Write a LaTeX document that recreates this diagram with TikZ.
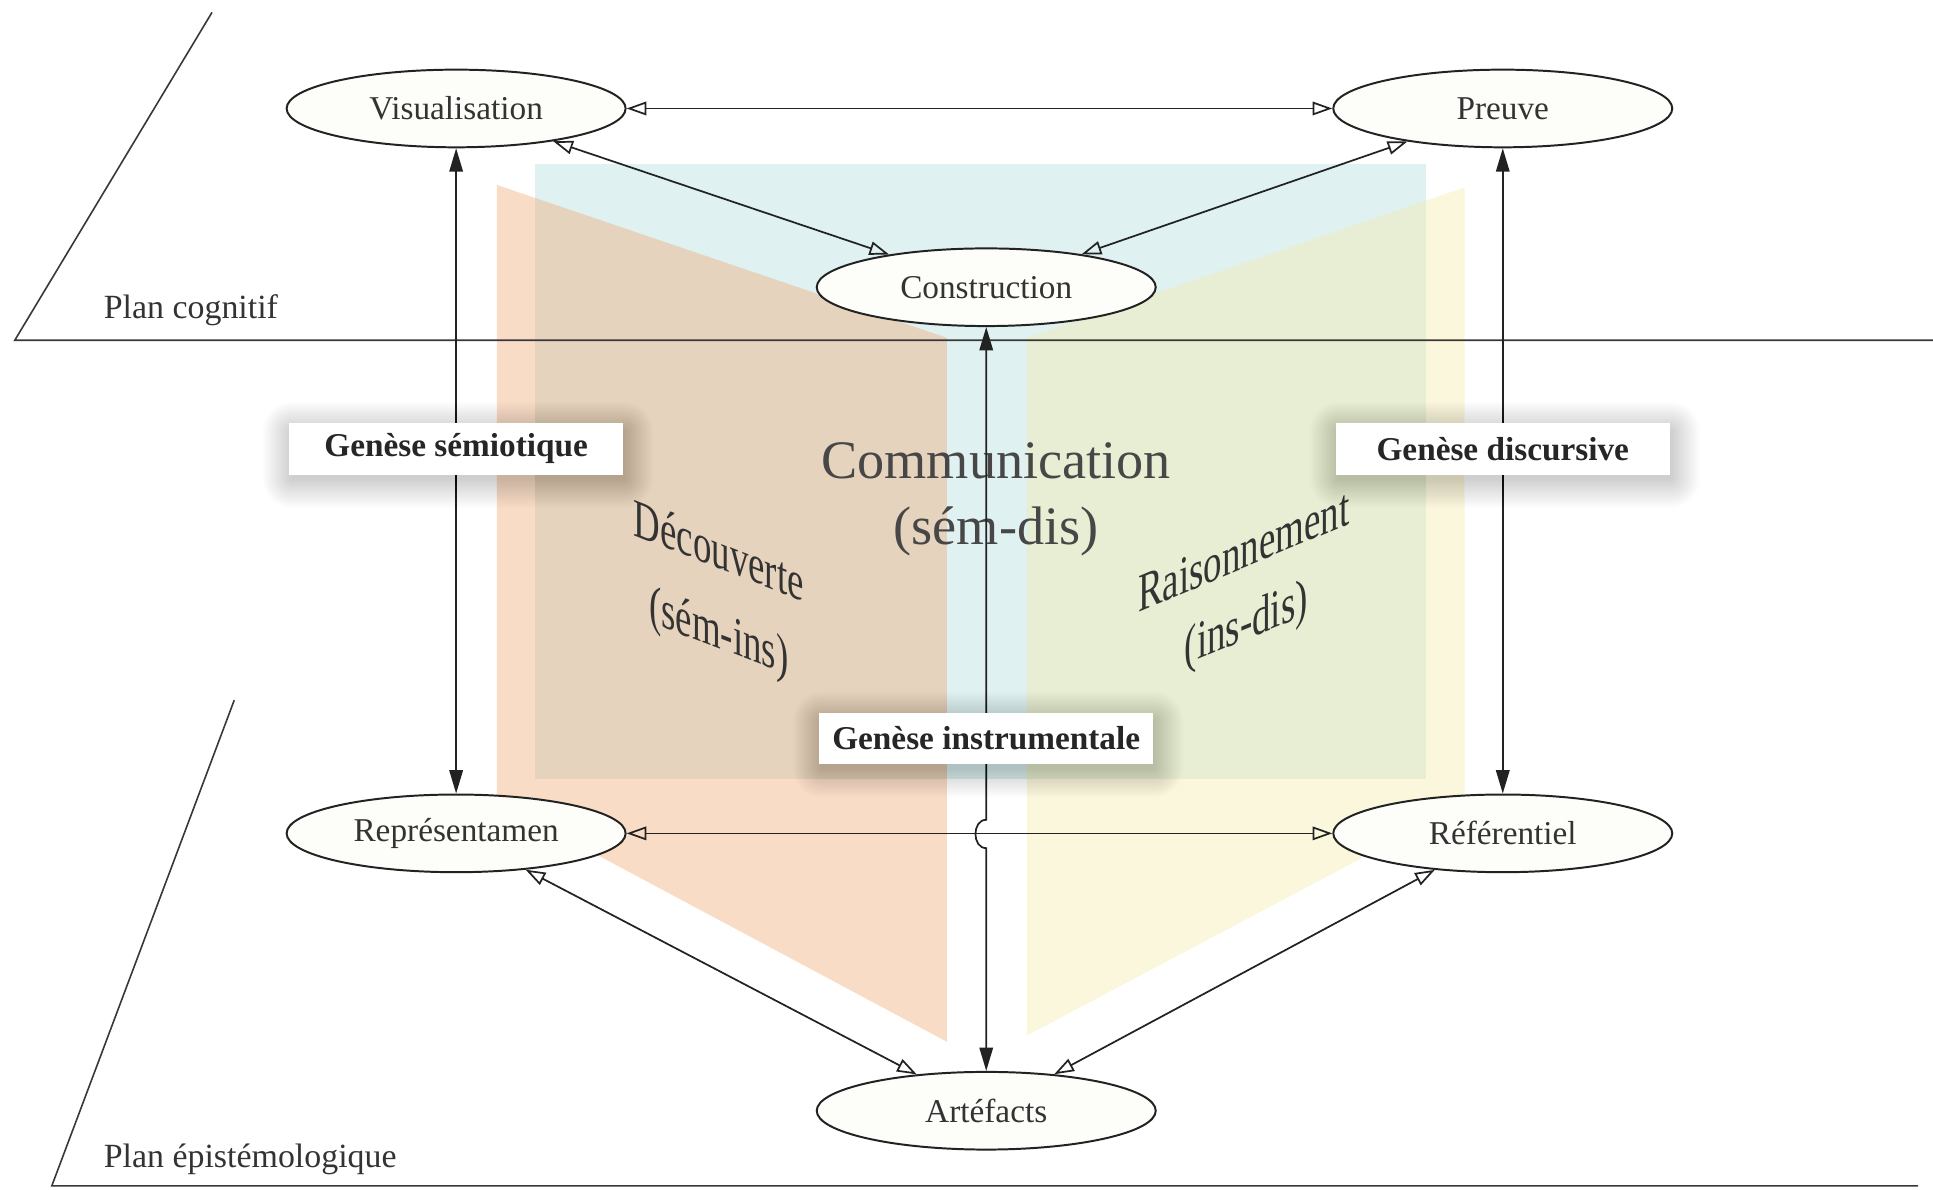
\documentclass[tikz,border=0pt]{standalone}
\usepackage{fontspec}
\setmainfont{Liberation Serif}
\usetikzlibrary{arrows.meta,shapes.geometric,calc}
\definecolor{panblue}{RGB}{224,241,241}
\definecolor{panorange}{RGB}{240,167,112}
\definecolor{panyellow}{RGB}{245,235,167}
\definecolor{ink}{RGB}{34,34,34}
\definecolor{elfill}{RGB}{253,253,249}
\newcommand\softshadow[1]{%
  \foreach \i in {1,...,24} {%
    \fill[black, opacity=0.009, rounded corners=\i pt]
      ($(#1)+(-133-\i,-19-\i+5)$) rectangle ($(#1)+(136+\i,19+\i+5)$);
  }%
}
\tikzset{
 elnode/.style={ellipse, draw=ink, line width=1.6pt, fill=elfill, minimum width=275pt, minimum height=63pt, inner sep=0pt, font=\fontsize{27}{31}\selectfont, text=black!80},
 genbox/.style={rectangle, fill=white, minimum width=271pt, minimum height=42pt, inner sep=0pt, font=\bfseries\fontsize{27}{32}\selectfont, text=black!85},
 openarr/.style={draw=ink, line width=1.4pt, {Triangle[open,length=16pt,width=11pt]}-{Triangle[open,length=16pt,width=11pt]}},
 fullarr/.style={draw=ink, line width=1.4pt, {Triangle[length=19pt,width=11pt]}-{Triangle[length=19pt,width=11pt]}},
 planeline/.style={draw=ink!90, line width=1.3pt},
 bigtext/.style={font=\fontsize{44}{50}\selectfont, text=black!72, anchor=base, inner sep=0pt},
 slanttext/.style={bigtext, text=black!80},
 plantext/.style={font=\fontsize{27.5}{32}\selectfont, text=black!80, anchor=base west, inner sep=0pt},
}
\begin{document}
\begin{tikzpicture}[x=1pt,y=-1pt]
\useasboundingbox (0,0) rectangle (1568,965);
% coloured pages
\fill[panblue] (434,133) rectangle (1157,632);
\fill[panorange, opacity=0.4] (403,150) -- (768,274) -- (768,845) -- (403,650) -- cycle;
\fill[panyellow, opacity=0.4] (1188,152) -- (833,274) -- (833,840) -- (1188,652) -- cycle;
% planes
\draw[planeline] (172,10) -- (12,276) -- (1568,276);
\draw[planeline] (190,568) -- (42,962) -- (1556,962);
\node[plantext] (pcog) at (84,258) {Plan cognitif};
\node[plantext] (pepi) at (84,947) {Plan épistémologique};
% big texts
\node[bigtext] (comm) at (808,388) {Communication};
\node[bigtext] (semdis) at (808,442) {(sém-dis)};
\node[slanttext, yslant=-0.39, xscale=0.68] (decouv) at (583,461) {Découverte};
\node[slanttext, yslant=-0.38, xscale=0.68] (semins) at (583,526) {(sém-ins)};
\node[slanttext, yslant=0.42, xscale=0.68] (raison) at (1009,461) {Raisonnement};
\node[slanttext, yslant=0.41, xscale=0.68] (insdis) at (1011,519) {(ins-dis)};
% ellipses
\node[elnode] (vis) at (370,88) {Visualisation};
\node[elnode] (preuve) at (1219,88) {Preuve};
\node[elnode] (cons) at (800,233) {Construction};
\node[elnode] (rep) at (370,676) {Représentamen};
\node[elnode] (ref) at (1219,676) {Référentiel};
\node[elnode] (art) at (800,901) {Artéfacts};
% connectors
\draw[openarr] (vis) -- (preuve);
\draw[openarr] (vis) -- (cons);
\draw[openarr] (preuve) -- (cons);
\draw[openarr] (rep) -- (ref);
\draw[openarr] (rep) -- (art);
\draw[openarr] (ref) -- (art);
\draw[fullarr] (vis) -- (rep);
\draw[fullarr] (preuve) -- (ref);
\coordinate (hopA) at (800,665);
\coordinate (hopB) at (800,688);
\draw[fullarr] (cons) -- (hopA) to[out=180,in=180,looseness=1.3] (hopB) -- (art);
% genesis labels
\coordinate (gsemc) at (370,364);
\coordinate (gdisc) at (1219,364);
\coordinate (ginsc) at (800,599);
\softshadow{gsemc}
\softshadow{gdisc}
\softshadow{ginsc}
\node[genbox] (gsem) at (gsemc) {Genèse sémiotique};
\node[genbox] (gdis) at (gdisc) {Genèse discursive};
\node[genbox] (gins) at (ginsc) {Genèse instrumentale};
\end{tikzpicture}
\end{document}
